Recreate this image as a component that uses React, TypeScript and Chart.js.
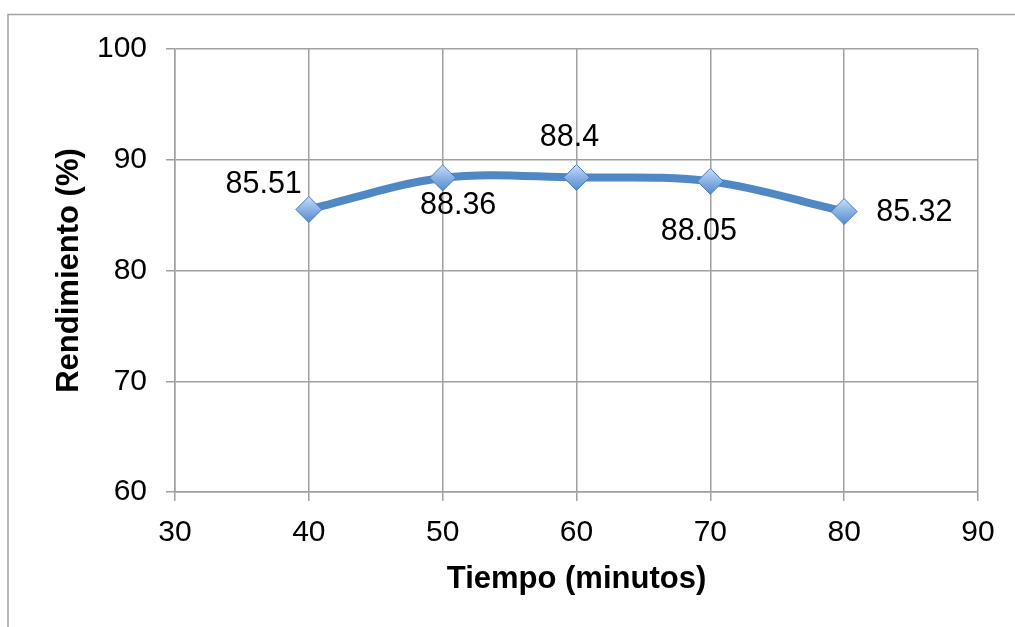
import React, { useEffect, useRef } from "react";
import { Chart, registerables } from "chart.js";

Chart.register(...registerables);

const tiempo = [40, 50, 60, 70, 80];
const rendimiento = [85.51, 88.36, 88.4, 88.05, 85.32];
const xTicks = [30, 40, 50, 60, 70, 80, 90];
const yTicks = [60, 70, 80, 90, 100];
const xTitle = "Tiempo (minutos)";
const yTitle = "Rendimiento (%)";

// label placement styles (offsets from point, px)
const labelPlacement = [
  { dx: -7, dy: -24.5, align: "right" },
  { dx: 15.5, dy: 28, align: "center" },
  { dx: -7, dy: -39.5, align: "center" },
  { dx: -11.5, dy: 50, align: "center" },
  { dx: 32, dy: 1.5, align: "left" },
];

const FONT = '"Liberation Sans", Arial, sans-serif';

const framePlugin = {
  id: "frame",
  beforeDraw(chart: any) {
    const ctx = chart.ctx;
    ctx.save();
    ctx.strokeStyle = "#A3A3A3";
    ctx.lineWidth = 1.5;
    ctx.beginPath();
    ctx.moveTo(8, 627);
    ctx.lineTo(8, 14.5);
    ctx.lineTo(1015, 14.5);
    ctx.stroke();
    ctx.restore();
  },
};

const labelPlugin = {
  id: "dataLabels",
  afterDatasetsDraw(chart: any) {
    const ctx = chart.ctx;
    const meta = chart.getDatasetMeta(0);
    ctx.save();
    ctx.font = `30.5px ${FONT}`;
    ctx.fillStyle = "#000000";
    ctx.textBaseline = "middle";
    meta.data.forEach((pt: any, i: number) => {
      const p = labelPlacement[i];
      ctx.textAlign = p.align;
      ctx.fillText(String(rendimiento[i]), pt.x + p.dx, pt.y + p.dy);
    });
    ctx.restore();
  },
};

export default function App() {
  const ref = useRef<HTMLCanvasElement>(null);
  useEffect(() => {
    if (!ref.current) return;
    const chart = new Chart(ref.current, {
      type: "scatter",
      data: {
        datasets: [
          {
            data: tiempo.map((x, i) => ({ x, y: rendimiento[i] })),
            showLine: true,
            borderColor: "#5088C6",
            borderWidth: 8,
            tension: 0.35,
            pointStyle: "rectRot",
            pointRadius: 13,
            pointHoverRadius: 13,
            pointBorderColor: "#4A7EBB",
            pointBorderWidth: 1,
            pointBackgroundColor: (c: any) => {
              const ys = c.chart.scales && c.chart.scales.y;
              if (!ys || !c.parsed) return "#7FA8DC";
              const py = ys.getPixelForValue(c.parsed.y);
              if (!isFinite(py)) return "#7FA8DC";
              const g = c.chart.ctx.createLinearGradient(0, py - 12, 0, py + 12);
              g.addColorStop(0, "#C4DAF5");
              g.addColorStop(0.5, "#8AB2E4");
              g.addColorStop(1, "#5A8DD0");
              return g;
            },
          } as any,
        ],
      },
      options: {
        responsive: false,
        animation: false,
        events: [],
        layout: { padding: { left: 0, top: 49, right: 37, bottom: 0 } },
        plugins: { legend: { display: false }, tooltip: { enabled: false } },
        scales: {
          x: {
            type: "linear",
            min: xTicks[0],
            max: xTicks[xTicks.length - 1],
            afterBuildTicks: (s: any) => {
              s.ticks = xTicks.map((v) => ({ value: v }));
            },
            afterFit: (s: any) => {
              s.height = 135;
            },
            grid: { color: "#A0A0A0", lineWidth: 1.5, tickLength: 9, drawTicks: true },
            border: { color: "#A0A0A0", width: 1.5 },
            ticks: { color: "#000", font: { family: FONT, size: 30 }, padding: 14, maxRotation: 0 },
            title: {
              display: true,
              text: xTitle,
              color: "#000",
              font: { family: FONT, size: 31, weight: "bold" },
              padding: { top: 0, bottom: 29 },
            },
          },
          y: {
            type: "linear",
            min: yTicks[0],
            max: yTicks[yTicks.length - 1],
            afterBuildTicks: (s: any) => {
              s.ticks = yTicks.map((v) => ({ value: v }));
            },
            afterFit: (s: any) => {
              s.width = 175;
            },
            grid: { color: "#A0A0A0", lineWidth: 1.5, tickLength: 9, drawTicks: true },
            border: { color: "#A0A0A0", width: 1.5 },
            ticks: { color: "#000", font: { family: FONT, size: 30 }, padding: 19 },
            title: {
              display: true,
              text: yTitle,
              color: "#000",
              font: { family: FONT, size: 31, weight: "bold" },
              padding: { top: 51, bottom: 0 },
            },
          },
        },
      },
      plugins: [framePlugin, labelPlugin],
    });
    return () => chart.destroy();
  }, []);
  return (
    <div style={{ position: "absolute", left: 0, top: 0, width: 1015, height: 627, background: "#fff" }}>
      <canvas ref={ref} width={1015} height={627} style={{ width: 1015, height: 627, display: "block" }} />
    </div>
  );
}
